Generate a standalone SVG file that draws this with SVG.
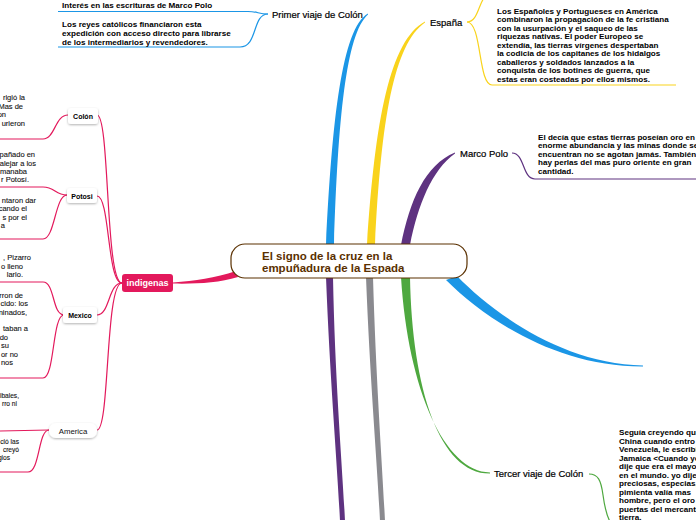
<svg xmlns="http://www.w3.org/2000/svg" width="696" height="520" viewBox="0 0 696 520">
<defs>
<filter id="sh" x="-20%" y="-30%" width="140%" height="170%"><feDropShadow dx="0" dy="1" stdDeviation="0.8" flood-color="#000" flood-opacity="0.3"/></filter>
<style>
.lbl{font-family:"Liberation Sans",Arial,sans-serif;font-size:9.5px;fill:#000;stroke:#000;stroke-width:0.2}
.blk{font-family:"Liberation Sans",Arial,sans-serif;font-size:8.1px;font-weight:bold;fill:#000}
.lt{font-family:"Liberation Sans",Arial,sans-serif;font-size:7.5px;fill:#111;stroke:#111;stroke-width:0.1;text-anchor:end}
.lt2{font-family:"Liberation Sans",Arial,sans-serif;font-size:6.6px;fill:#111;stroke:#111;stroke-width:0.1;text-anchor:end}
.nd{fill:#fff;filter:url(#sh)}
.ndt{font-family:"Liberation Sans",Arial,sans-serif;font-size:7px;font-weight:bold;fill:#000;text-anchor:middle}
.thin{fill:none;stroke-width:1.2}
.pk{stroke:#e3195c}
</style>
</defs>
<rect width="696" height="520" fill="#fff"/>
<g id="connectors">
<path d="M326,245 C332,120 342,28 368,13.4 L368,14.6 C346,34 338,120 334,245 Z" fill="#1b96e6"/>
<path d="M367,245 C375,120 390,40 425,21.4 L425,22.6 C394,44 381,120 375,245 Z" fill="#f9d31c"/>
<path d="M401,245 C410,200 425,165 455,152.4 L455,153.6 C432,170 418,205 410,245 Z" fill="#5e3280"/>
<path d="M401,277 C408,390 445,472 490,472.4 L490,473.6 C440,474 412,390 410,277 Z" fill="#4ea83f"/>
<path d="M457,276 C495,315 565,364.4 643,365.4 L643,366.6 C560,367 488,322 446,280 Z" fill="#1b96e6"/>
<path d="M326,277 C330,380 337,460 340,521 L345,521 C342,460 335,380 333,277 Z" fill="#5e3280"/>
<path d="M366,277 C370,380 377,460 380,521 L385,521 C382,460 376,380 373,277 Z" fill="#8a8a8f"/>
<path d="M236,271 C215,278 195,281 173,282.4 L173,283.6 C197,284 218,283 238,277 Z" fill="#e3195c"/>
<path class="thin" stroke="#1b96e6" d="M268,14 C258,14 258,11.5 248,11.5 L58,11.5"/>
<path class="thin" stroke="#1b96e6" d="M268,14 C252,14 258,47 240,47 L58,47"/>
<path class="thin" stroke="#f9d31c" d="M467,22 C480,22 478,-4 490,-6 L676,-6"/>
<path class="thin" stroke="#f9d31c" d="M467,22 C482,22 478,85 492,85 L676,85"/>
<path class="thin" stroke="#5e3280" d="M512,153 C525,153 522,179 535,179 L696,179"/>
<path class="thin" stroke="#4ea83f" d="M589,474 C598,474 601,480 603,495 S607,518 612,525"/>
<path class="thin pk" d="M122,283 C105,283 110,115 97,115"/>
<path class="thin pk" d="M122,283 C107,283 110,196 97,196"/>
<path class="thin pk" d="M122,283 C108,283 110,315 97,315"/>
<path class="thin pk" d="M122,283 C105,283 110,430 97,430"/>
<path class="thin pk" d="M68,115 C55,115 55,139 43,139 L0,139"/>
<path class="thin pk" d="M67,195 C55,195 55,187 43,187 L0,187"/>
<path class="thin pk" d="M67,195 C55,195 55,239 43,239 L0,239"/>
<path class="thin pk" d="M64,315 C52,315 55,282 43,282 L0,282"/>
<path class="thin pk" d="M64,315 C52,315 55,378 43,378 L0,378"/>
<path class="thin pk" d="M49,430 L0,431"/>
<path class="thin pk" d="M49,430 C38,430 40,472 28,472 L0,472"/>
</g>
<g id="center">
<rect x="231" y="244" width="236" height="34" rx="14" fill="#fff" stroke="#5a3000" stroke-width="1.2"/>
<text font-family="Liberation Sans,Arial,sans-serif" font-size="11.5" font-weight="bold" fill="#5a3000"><tspan x="262" y="259.5">El signo de la cruz en la</tspan><tspan x="262" y="271.5">empuñadura de la Espada</tspan></text>
</g>
<g id="primer-viaje">
<text class="lbl" x="272" y="17.5">Primer viaje de Colón</text>
<text class="blk" x="62" y="7.5">Interés en las escrituras de Marco Polo</text>
<text class="blk"><tspan x="62" y="27">Los reyes católicos financiaron esta</tspan><tspan x="62" y="36">expedición con acceso directo para librarse</tspan><tspan x="62" y="44.7">de los intermediarios y revendedores.</tspan></text>
</g>
<g id="espana">
<text class="lbl" x="430" y="25.5">España</text>
<text class="blk"><tspan x="497" y="13.5">Los Españoles y Portugueses en América</tspan><tspan x="497" y="22">combinaron la propagación de la fe cristiana</tspan><tspan x="497" y="30.5">con la usurpación y el saqueo de las</tspan><tspan x="497" y="39">riquezas nativas. El poder Europeo se</tspan><tspan x="497" y="47.5">extendía, las tierras vírgenes despertaban</tspan><tspan x="497" y="56">la codicia de los capitanes de los hidalgos</tspan><tspan x="497" y="64.5">caballeros y soldados lanzados a la</tspan><tspan x="497" y="73">conquista de los botines de guerra, que</tspan><tspan x="497" y="81.5">estas eran costeadas por ellos mismos.</tspan></text>
</g>
<g id="marco-polo">
<text class="lbl" x="460" y="156.5">Marco Polo</text>
<text class="blk"><tspan x="538" y="139.5">El decía que estas tierras poseían oro en</tspan><tspan x="538" y="148">enorme abundancia y las minas donde se</tspan><tspan x="538" y="156.5">encuentran no se agotan jamás. También</tspan><tspan x="538" y="165">hay perlas del mas puro oriente en gran</tspan><tspan x="538" y="173.5">cantidad.</tspan></text>
</g>
<g id="tercer-viaje">
<text class="lbl" x="494" y="476.5">Tercer viaje de Colón</text>
<text class="blk"><tspan x="619" y="435">Seguía creyendo que</tspan><tspan x="619" y="443.5">China cuando entro</tspan><tspan x="619" y="452">Venezuela, le escribió</tspan><tspan x="619" y="460.5">Jamaica &lt;Cuando yo</tspan><tspan x="619" y="469">dije que era el mayor</tspan><tspan x="619" y="477.5">en el mundo. yo dije</tspan><tspan x="619" y="486">preciosas, especias,</tspan><tspan x="619" y="494.5">pimienta valía mas</tspan><tspan x="619" y="503">hombre, pero el oro</tspan><tspan x="619" y="511.5">puertas del mercante</tspan><tspan x="619" y="520">tierra.</tspan></text>
</g>
<g id="indigenas">
<rect x="122" y="274" width="51" height="18" rx="3" fill="#e3195c"/>
<text x="147.5" y="286.3" font-family="Liberation Sans,Arial,sans-serif" font-size="9" font-weight="bold" fill="#fff" text-anchor="middle">indigenas</text>
</g>
<g id="colon">
<rect class="nd" x="68" y="108" width="30" height="16" rx="3"/>
<text class="ndt" x="83" y="118.5">Colón</text>
<text class="lt"><tspan x="25" y="99.5">rigió la</tspan><tspan x="23" y="108.5">Mas de</tspan><tspan x="6" y="117">on</tspan><tspan x="25" y="125.5">urieron</tspan></text>
</g>
<g id="potosi">
<rect class="nd" x="67" y="188" width="30" height="15" rx="3"/>
<text class="ndt" x="82" y="198.5">Potosi</text>
<text class="lt"><tspan x="35" y="156.5">pañado en</tspan><tspan x="36" y="165.5">alejar a los</tspan><tspan x="27" y="174">manaba</tspan><tspan x="29" y="182">r Potosí.</tspan></text>
<text class="lt"><tspan x="36" y="202.5">ntaron dar</tspan><tspan x="27" y="211">cando el</tspan><tspan x="27" y="219.5">s por el</tspan><tspan x="5" y="228">a</tspan></text>
</g>
<g id="mexico">
<rect class="nd" x="63" y="307" width="34" height="16" rx="3"/>
<text class="ndt" x="80" y="318">Mexico</text>
<text class="lt"><tspan x="31" y="259.5">, Pizarro</tspan><tspan x="23" y="268.5">o lleno</tspan><tspan x="23" y="277">lario.</tspan></text>
<text class="lt"><tspan x="23" y="297.5">rron de</tspan><tspan x="28" y="306">cido: los</tspan><tspan x="27" y="314.5">ninados,</tspan><tspan x="28" y="331">taban a</tspan><tspan x="8" y="339.5">do</tspan><tspan x="9" y="348">su</tspan><tspan x="18" y="356.5">or no</tspan><tspan x="13" y="365">nos</tspan></text>
</g>
<g id="america">
<rect class="nd" x="49" y="423" width="48" height="15" rx="7"/>
<text x="73" y="433.5" font-family="Liberation Sans,Arial,sans-serif" font-size="7.8" fill="#111" text-anchor="middle">America</text>
<text class="lt2"><tspan x="19" y="397.5">ibales,</tspan><tspan x="17" y="405.5">rro ni</tspan></text>
<text class="lt2"><tspan x="19" y="444">ció las</tspan><tspan x="19" y="452">creyó</tspan><tspan x="10" y="460">gios</tspan></text>
</g>
</svg>
